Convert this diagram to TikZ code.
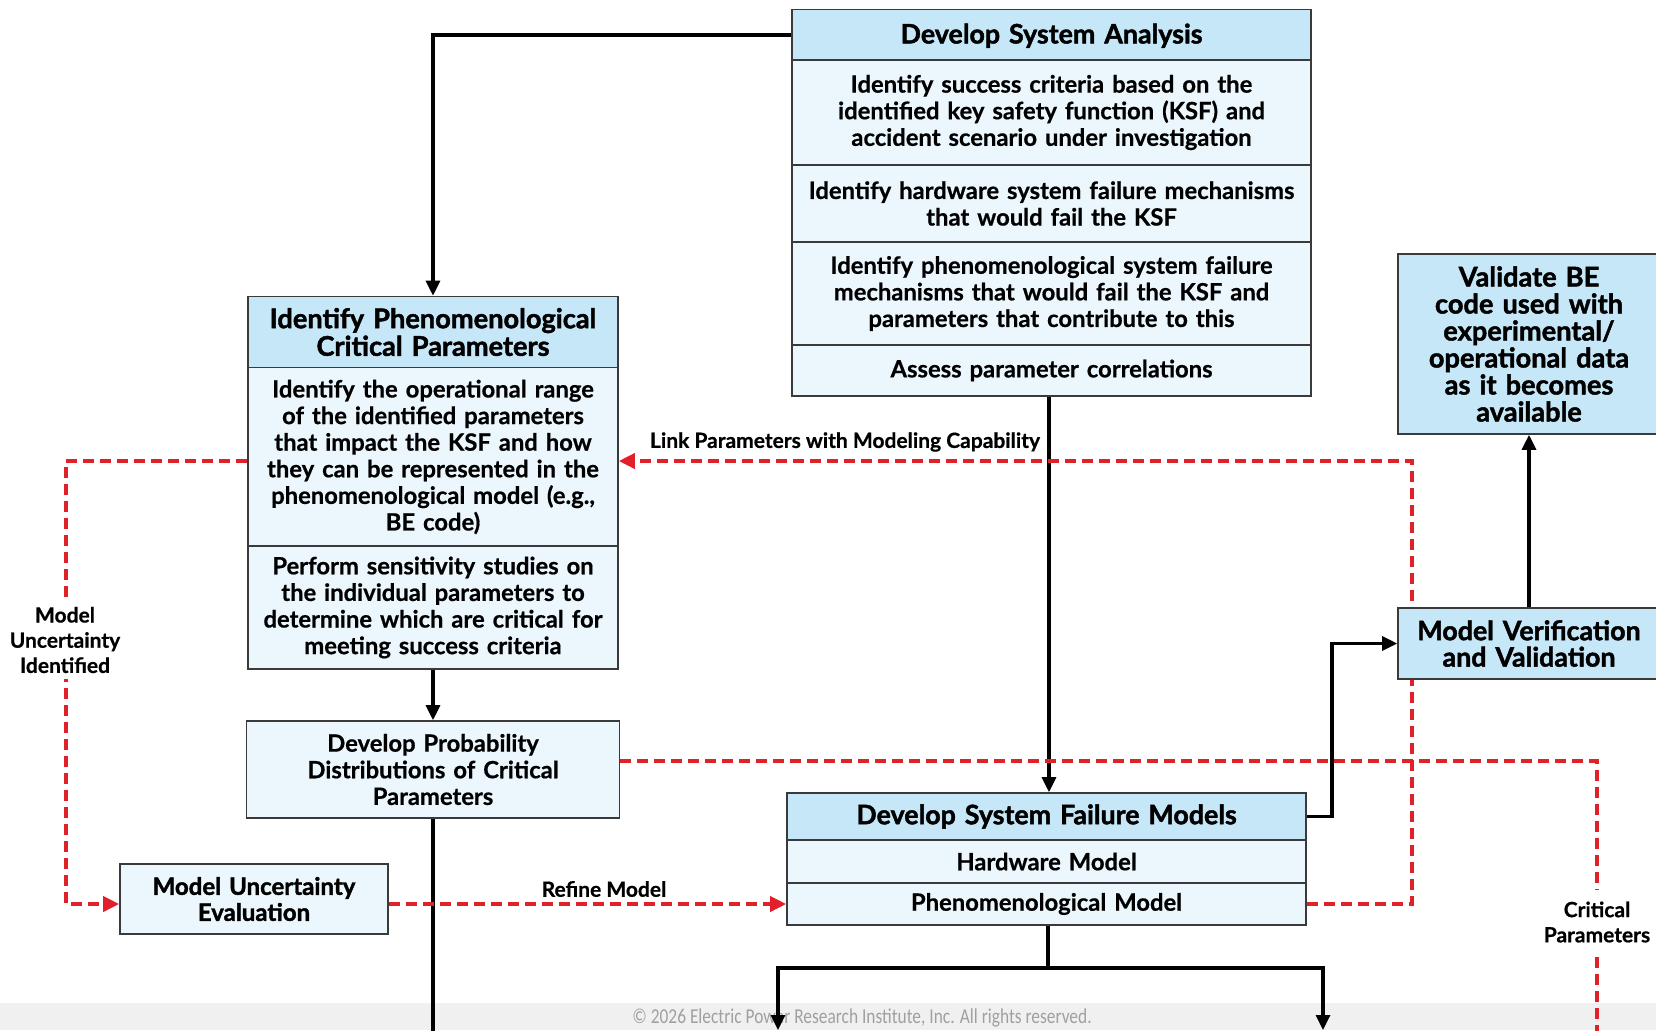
\documentclass[tikz,border=0pt]{standalone}
\usepackage{fontspec}
\setmainfont{Lato}[BoldFeatures={FakeBold=0.6}]
\newfontfamily\heavyfont{Lato}[BoldFeatures={FakeBold=1.6}]
\newfontfamily\footfont[FakeStretch=0.82]{Carlito}
\usetikzlibrary{arrows.meta,calc}
\definecolor{hdr}{HTML}{C6E7F8}
\definecolor{rowc}{HTML}{EBF6FD}
\definecolor{bord}{HTML}{3A3A3A}
\definecolor{epred}{HTML}{E2202C}
\definecolor{footbg}{HTML}{F0F0F0}
\definecolor{foottx}{HTML}{A0A0A0}
\pgfdeclarelayer{back}
\pgfdeclarelayer{bg}
\pgfsetlayers{back,bg,main}
\tikzset{
  cellbase/.style 2 args={draw=bord,line width=0.8pt,inner sep=0pt,align=center,
    text width=#1,minimum width=#1,minimum height=#2},
  hdrcell/.style 2 args={cellbase={#1}{#2},fill=hdr,
    font=\heavyfont\bfseries\fontsize{13.4}{14}\selectfont},
  bodycell/.style 2 args={cellbase={#1}{#2},fill=rowc,
    font=\bfseries\fontsize{11.9}{13.3}\selectfont},
  blk/.style={draw=black,line width=1.6pt},
  blkarrow/.style={blk,-{Triangle[length=7.5pt,width=7pt]}},
  rd/.style={draw=epred,line width=1.8pt,dash pattern=on 5.5pt off 3pt},
  rdarrow/.style={rd,-{Triangle[length=8pt,width=7.5pt]}},
  lbl/.style={font=\bfseries\fontsize{10.5}{12.6}\selectfont,align=center,inner sep=0pt},
}
\begin{document}
\begin{tikzpicture}[x=0.5pt,y=-0.5pt]
\useasboundingbox (0,0) rectangle (1656,1030);
\begin{pgfonlayer}{back}
\fill[white] (0,0) rectangle (1656,1030);
\fill[footbg] (0,1003) rectangle (1656,1030);
\node[font=\footfont\fontsize{10.6}{11}\selectfont,text=foottx,inner sep=0pt] (foot) at (862,1018) {\textcopyright{} 2026 Electric Power Research Institute, Inc. All rights reserved.};
\end{pgfonlayer}

% Develop System Analysis
\node[hdrcell={259.5pt}{25.5pt},text depth=1.5pt] (dsaH) at (1051.5,35) {Develop System Analysis};
\node[bodycell={259.5pt}{52.5pt}] (dsa1) at (1051.5,112.5) {Identify success criteria based on the\\identified key safety function (KSF) and\\accident scenario under investigation};
\node[bodycell={259.5pt}{38.5pt}] (dsa2) at (1051.5,203.5) {Identify hardware system failure mechanisms\\that would fail the KSF};
\node[bodycell={259.5pt}{51.5pt}] (dsa3) at (1051.5,293.5) {Identify phenomenological system failure\\mechanisms that would fail the KSF and\\parameters that contribute to this};
\node[bodycell={259.5pt}{25.5pt}] (dsa4) at (1051.5,370.5) {Assess parameter correlations};

% Identify Phenomenological Critical Parameters
\node[hdrcell={185pt}{35.5pt},font=\heavyfont\bfseries\fontsize{13.6}{13.8}\selectfont] (phH) at (433,332) {Identify Phenomenological\\Critical Parameters};
\node[bodycell={185pt}{89.5pt}] (ph1) at (433,457) {Identify the operational range\\of the identified parameters\\that impact the KSF and how\\they can be represented in the\\phenomenological model (e.g.,\\BE code)};
\node[bodycell={185pt}{61.5pt}] (ph2) at (433,607.5) {Perform sensitivity studies on\\the individual parameters to\\determine which are critical for\\meeting success criteria};

% Develop Probability Distributions
\node[bodycell={186.5pt}{48.5pt}] (dpd) at (433,769.5) {Develop Probability\\Distributions of Critical\\Parameters};

% Model Uncertainty Evaluation
\node[bodycell={134pt}{35pt},font=\heavyfont\bfseries\fontsize{12}{13}\selectfont] (mue) at (254,899) {Model Uncertainty\\Evaluation};

% Develop System Failure Models
\node[hdrcell={259.5pt}{23.5pt}] (fmH) at (1046.5,816.5) {Develop System Failure Models};
\node[bodycell={259.5pt}{21.5pt}] (fm1) at (1046.5,861.5) {Hardware Model};
\node[bodycell={259.5pt}{21pt}] (fm2) at (1046.5,904) {Phenomenological Model};

% Right boxes
\node[hdrcell={131pt}{90pt},font=\heavyfont\bfseries\fontsize{13.6}{13.5}\selectfont] (val) at (1529,344) {Validate BE\\code used with\\experimental/\\operational data\\as it becomes\\available};
\node[hdrcell={131pt}{35.5pt},font=\heavyfont\bfseries\fontsize{13.4}{13.2}\selectfont] (mvv) at (1529,643.5) {Model Verification\\and Validation};

% coordinates
\coordinate (c1) at (433,35);
\coordinate (jn) at (1048,968);
\coordinate (bL) at (778,1030);
\coordinate (bR) at (1323,1030);
\coordinate (dpdEnd) at (433,1045);
\coordinate (c6) at (1332,700);
\coordinate (ra1) at (1412,904);
\coordinate (ra2) at (1412,461);
\coordinate (rb1) at (66,461);
\coordinate (rb2) at (66,904);
\coordinate (rd1) at (1597,761);
\coordinate (rd2) at (1597,1045);
\coordinate (v1) at (1049,396);

\begin{pgfonlayer}{bg}
% black connectors
\draw[blkarrow] (dsaH.west |- c1) -- (c1) -- (phH.north);
\draw[blkarrow] (v1) -- (v1 |- fmH.north);
\draw[blkarrow] (ph2.south) -- (dpd.north);
\draw[blk] (dpd.south) -- (dpdEnd);
\draw[blk] (jn |- fm2.south) -- (jn);
\draw[blkarrow] (jn) -| (bL);
\draw[blkarrow] (jn) -| (bR);
\draw[blkarrow] (fmH.east) -| (c6) |- (mvv.west);
\draw[blkarrow] (mvv.north) -- (val.south);
% red dashed
\draw[rdarrow] (fm2.east) -- (ra1) -- (ra2) -- (ph1.east |- ra2);
\draw[rdarrow] (ph1.west |- rb1) -- (rb1) -- (rb2) -- (mue.west |- rb2);
\draw[rdarrow] (mue.east |- rb2) -- (fm2.west);
\draw[rd] ($(dpd.east)+(0,-8.5)$) -- (rd1) -- (rd2);
\end{pgfonlayer}

% labels
\node[lbl] (lLink) at (845,442) {Link Parameters with Modeling Capability};
\node[lbl,fill=white,inner xsep=2pt,minimum height=39pt] (lMUI) at (65,640) {Model\\Uncertainty\\Identified};
\node[lbl] (lRef) at (604,889) {Refine Model};
\node[lbl,fill=white,inner xsep=2pt,minimum height=32pt] (lCrit) at (1597,922) {Critical\\Parameters};
\end{tikzpicture}
\end{document}
